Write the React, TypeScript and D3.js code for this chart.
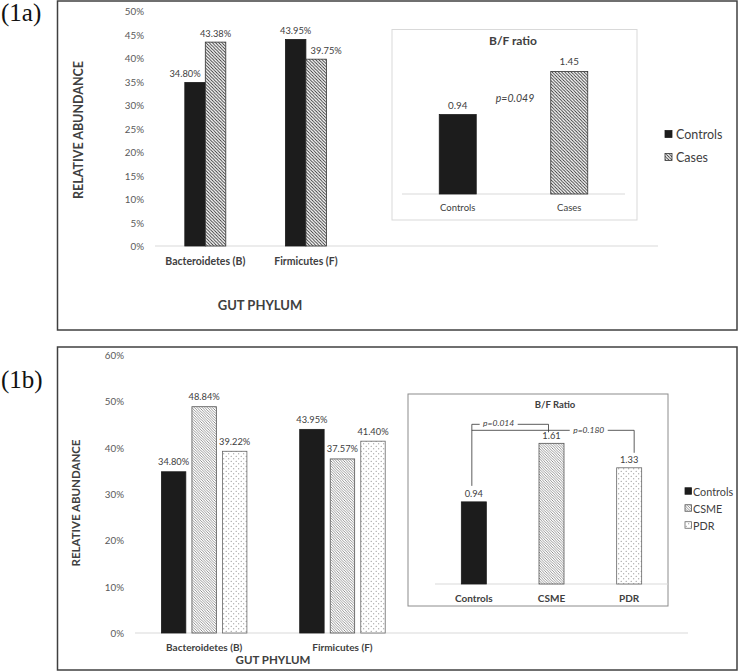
import React from "react";
import * as d3 from "d3";

// ---------- data ----------
const phyla = ["Bacteroidetes (B)", "Firmicutes (F)"];

// panel 1a
const groupsA = ["Controls", "Cases"];
const controlsA = [34.8, 43.95];
const casesA = [43.38, 39.75];
const yTicksA = [0, 5, 10, 15, 20, 25, 30, 35, 40, 45, 50];
const ratioGroupsA = ["Controls", "Cases"];
const ratioA = [0.94, 1.45];
const pValueA = "p=0.049";

// panel 1b
const groupsB = ["Controls", "CSME", "PDR"];
const controlsB = [34.8, 43.95];
const csmeB = [48.84, 37.57];
const pdrB = [39.22, 41.4];
const yTicksB = [0, 10, 20, 30, 40, 50, 60];
const ratioB = [0.94, 1.61, 1.33];
const pValuesB = ["p=0.014", "p=0.180"];

const FONT = "Lato, 'Open Sans', sans-serif";
const DARK = "#404040";
const fillA: Record<string, string> = { Controls: "#1c1c1c", Cases: "url(#hatchA)" };
const fillB: Record<string, string> = { Controls: "#1c1c1c", CSME: "url(#hatchB)", PDR: "url(#dotsB)" };
const strokeA: Record<string, string> = { Controls: "#1c1c1c", Cases: "#333" };
const strokeB: Record<string, string> = { Controls: "#1c1c1c", CSME: "#555", PDR: "#666" };

const pct = (v: number) => v.toFixed(2) + "%";

export default function App() {
  // ----- panel 1a scales -----
  const yA = d3.scaleLinear().domain([0, 50]).range([246, 11]);
  const xA = d3.scaleBand<string>().domain(phyla).range([155, 356.2]);
  const xAin = d3.scaleBand<string>().domain(groupsA).range([0, 41]);
  const seriesA = [controlsA, casesA];

  const xInA = d3.scaleBand<string>().domain(ratioGroupsA).range([402, 625]);
  const yInA = d3.scaleLinear().domain([0, 1.6]).range([194, 58.8]);

  // ----- panel 1b scales -----
  const yB = d3.scaleLinear().domain([0, 60]).range([633, 355]);
  const xB = d3.scaleBand<string>().domain(phyla).range([135, 411.6]);
  const xBin = d3.scaleBand<string>().domain(groupsB).range([0, 85.5]).paddingInner(0.2);
  const seriesB = [controlsB, csmeB, pdrB];

  const xInB = d3.scaleBand<string>().domain(groupsB).range([435, 668]);
  const yInB = d3.scaleLinear().domain([0, 1.6]).range([584, 444.2]);

  const cB = (g: string) => xInB(g)! + xInB.bandwidth() / 2;
  const ctrlX = cB("Controls") - 2;
  const csmeX = cB("CSME") - 3;
  const pdrX = cB("PDR") + 5;
  const top1 = yInB(ratioB[1]) - 19;
  const top2 = top1 + 6;
  const t1x = ctrlX + 0.35 * (csmeX - ctrlX);
  const t2x = ctrlX + 0.72 * (pdrX - ctrlX);

  return (
    <svg width={740} height={672} style={{ position: "absolute", left: 0, top: 0, background: "#fff" }} fontFamily={FONT}>
      <defs>
        <pattern id="hatchA" width={3.2} height={3.2} patternUnits="userSpaceOnUse">
          <rect width={3.2} height={3.2} fill="#fff" />
          <path d="M-1,-1 L4.2,4.2 M-1,2.2 L1,4.2 M2.2,-1 L4.2,1" stroke="#262626" strokeWidth={0.85} />
        </pattern>
        <pattern id="hatchB" width={2.6} height={2.6} patternUnits="userSpaceOnUse">
          <rect width={2.6} height={2.6} fill="#fff" />
          <path d="M-1,-1 L3.6,3.6 M-1,1.6 L1,3.6 M1.6,-1 L3.6,1" stroke="#555" strokeWidth={0.6} />
        </pattern>
        <pattern id="dotsB" width={5} height={5} patternUnits="userSpaceOnUse">
          <rect width={5} height={5} fill="#fff" />
          <circle cx={1.2} cy={1.2} r={0.55} fill="#777" />
          <circle cx={3.7} cy={3.7} r={0.55} fill="#777" />
        </pattern>
      </defs>

      {/* ================= PANEL 1a ================= */}
      <text x={1} y={21} fontFamily="'Liberation Serif', 'Times New Roman', serif" fontSize={25} fill="#111">(1a)</text>
      <rect x={57.5} y={1} width={679.5} height={329} fill="none" stroke={DARK} strokeWidth={1.5} />

      {yTicksA.map((t) => (
        <text key={t} x={144} y={yA(t)} textAnchor="end" dominantBaseline="central" fontSize={9.8} fill="#595959">{t}%</text>
      ))}
      <line x1={155} x2={658} y1={yA(0)} y2={yA(0)} stroke="#d9d9d9" strokeWidth={1} />

      {phyla.map((p, i) => {
        const left = xA(p)! + xA.bandwidth() / 2 - xAin.range()[1] / 2;
        return (
          <g key={p}>
            {groupsA.map((g, j) => {
              const v = seriesA[j][i];
              const other = seriesA[1 - j][i];
              const dx = v < other ? (j === 0 ? -10 : 10) : 0;
              const x = left + xAin(g)!;
              const w = xAin.bandwidth();
              return (
                <g key={g}>
                  <rect x={x} y={yA(v)} width={w} height={yA(0) - yA(v)} fill={fillA[g]} stroke={strokeA[g]} strokeWidth={0.8} />
                  <text x={x + w / 2 + dx} y={yA(v) - 9} textAnchor="middle" dominantBaseline="central" fontSize={9.3} fill={DARK}>{pct(v)}</text>
                </g>
              );
            })}
            <text x={xA(p)! + xA.bandwidth() / 2} y={261} textAnchor="middle" dominantBaseline="central" fontSize={10.5} fontWeight={700} fill={DARK}>{p}</text>
          </g>
        );
      })}

      <text transform="translate(78,130) rotate(-90)" textAnchor="middle" dominantBaseline="central" fontSize={12.5} fontWeight={700} fill={DARK}>RELATIVE ABUNDANCE</text>
      <text x={260} y={305} textAnchor="middle" dominantBaseline="central" fontSize={13} fontWeight={700} fill={DARK}>GUT PHYLUM</text>

      {/* inset 1a */}
      <rect x={392} y={29.5} width={245} height={190.5} fill="#fff" stroke="#d9d9d9" strokeWidth={1} />
      <text x={513} y={40} textAnchor="middle" dominantBaseline="central" fontSize={12} fontWeight={700} fill={DARK}>B/F ratio</text>
      <line x1={402} x2={625} y1={yInA(0)} y2={yInA(0)} stroke="#d9d9d9" />
      {ratioGroupsA.map((g, i) => {
        const c = xInA(g)! + xInA.bandwidth() / 2;
        const v = ratioA[i];
        return (
          <g key={g}>
            <rect x={c - 18.5} y={yInA(v)} width={37} height={yInA(0) - yInA(v)} fill={fillA[g]} stroke={strokeA[g]} strokeWidth={0.8} />
            <text x={c} y={yInA(v) - 10} textAnchor="middle" dominantBaseline="central" fontSize={9.8} fill={DARK}>{v.toFixed(2)}</text>
            <text x={c} y={207} textAnchor="middle" dominantBaseline="central" fontSize={9.5} fill={DARK}>{g}</text>
          </g>
        );
      })}
      <text x={515} y={98} textAnchor="middle" dominantBaseline="central" fontSize={10.5} fontStyle="italic" fill={DARK}>{pValueA}</text>

      {/* legend 1a */}
      {groupsA.map((g, i) => (
        <g key={g}>
          <rect x={665} y={134 + i * 23 - 3.5} width={7} height={7} fill={fillA[g]} stroke={strokeA[g]} strokeWidth={0.8} />
          <text x={676} y={134 + i * 23} dominantBaseline="central" fontSize={12.5} fill={DARK}>{g}</text>
        </g>
      ))}

      {/* ================= PANEL 1b ================= */}
      <text x={1} y={388} fontFamily="'Liberation Serif', 'Times New Roman', serif" fontSize={25} fill="#111">(1b)</text>
      <rect x={57.5} y={347} width={679.5} height={323} fill="none" stroke={DARK} strokeWidth={1.5} />

      {yTicksB.map((t) => (
        <text key={t} x={124} y={yB(t)} textAnchor="end" dominantBaseline="central" fontSize={9.8} fill="#595959">{t}%</text>
      ))}
      <line x1={135} x2={688} y1={yB(0)} y2={yB(0)} stroke="#d9d9d9" strokeWidth={1} />

      {phyla.map((p, i) => {
        const left = xB(p)! + xB.bandwidth() / 2 - xBin.range()[1] / 2;
        return (
          <g key={p}>
            {groupsB.map((g, j) => {
              const v = seriesB[j][i];
              const x = left + xBin(g)!;
              const w = xBin.bandwidth();
              return (
                <g key={g}>
                  <rect x={x} y={yB(v)} width={w} height={yB(0) - yB(v)} fill={fillB[g]} stroke={strokeB[g]} strokeWidth={0.8} />
                  <text x={x + w / 2} y={yB(v) - 10} textAnchor="middle" dominantBaseline="central" fontSize={9.3} fill={DARK}>{pct(v)}</text>
                </g>
              );
            })}
            <text x={xB(p)! + xB.bandwidth() / 2} y={647} textAnchor="middle" dominantBaseline="central" fontSize={10} fontWeight={700} fill={DARK}>{p}</text>
          </g>
        );
      })}

      <text transform="translate(75,503) rotate(-90)" textAnchor="middle" dominantBaseline="central" fontSize={11.5} fontWeight={700} fill={DARK}>RELATIVE ABUNDANCE</text>
      <text x={273} y={659} textAnchor="middle" dominantBaseline="central" fontSize={11.5} fontWeight={700} fill={DARK}>GUT PHYLUM</text>

      {/* inset 1b */}
      <rect x={408} y={394} width={260} height={212} fill="#fff" stroke="#8c8c8c" strokeWidth={1} />
      <text x={555} y={404} textAnchor="middle" dominantBaseline="central" fontSize={9.5} fontWeight={700} fill={DARK}>B/F Ratio</text>
      <line x1={435} x2={668} y1={yInB(0)} y2={yInB(0)} stroke="#d9d9d9" />
      {groupsB.map((g, i) => {
        const c = cB(g);
        const v = ratioB[i];
        return (
          <g key={g}>
            <rect x={c - 12.5} y={yInB(v)} width={25} height={yInB(0) - yInB(v)} fill={fillB[g]} stroke={strokeB[g]} strokeWidth={0.8} />
            <text x={c} y={yInB(v) - 8} textAnchor="middle" dominantBaseline="central" fontSize={9.3} fill={DARK}>{v.toFixed(2)}</text>
            <text x={c} y={598} textAnchor="middle" dominantBaseline="central" fontSize={10} fontWeight={700} fill={DARK}>{g}</text>
          </g>
        );
      })}

      {/* significance brackets */}
      <g stroke="#333" strokeWidth={0.8} fill="none">
        <path d={`M${ctrlX},${yInB(ratioB[0]) - 16} V${top1} H${csmeX} V${yInB(ratioB[1]) - 11}`} />
        <path d={`M${ctrlX},${top2} H${pdrX} V${yInB(ratioB[2]) - 15}`} />
      </g>
      <rect x={t1x - 19} y={top1 - 5} width={38} height={9} fill="#fff" />
      <text x={t1x} y={top1 - 1} textAnchor="middle" dominantBaseline="central" fontSize={8.5} fontStyle="italic" fill={DARK}>{pValuesB[0]}</text>
      <rect x={t2x - 19} y={top2 - 5} width={38} height={10} fill="#fff" />
      <text x={t2x} y={top2} textAnchor="middle" dominantBaseline="central" fontSize={8.5} fontStyle="italic" fill={DARK}>{pValuesB[1]}</text>

      {/* legend 1b */}
      {groupsB.map((g, i) => (
        <g key={g}>
          <rect x={685} y={491 + i * 17 - 3.25} width={6.5} height={6.5} fill={fillB[g]} stroke={strokeB[g]} strokeWidth={0.8} />
          <text x={693} y={491 + i * 17} dominantBaseline="central" fontSize={10.8} fill={DARK}>{g}</text>
        </g>
      ))}
    </svg>
  );
}
